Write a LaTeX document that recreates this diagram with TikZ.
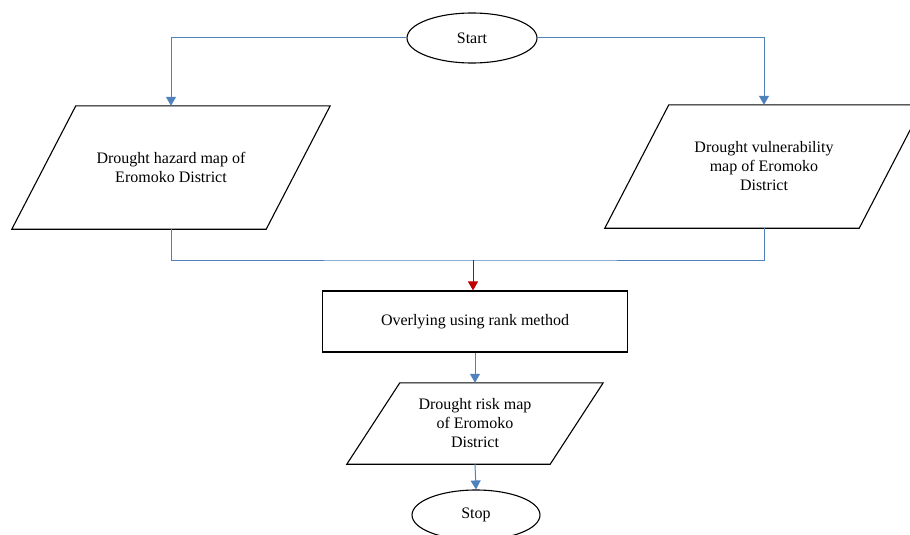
\documentclass[tikz,border=0pt]{standalone}
\usepackage{fontspec}
\setmainfont{Liberation Serif}
\usetikzlibrary{arrows.meta,shapes.geometric,positioning}
\definecolor{flowblue}{RGB}{79,129,189}
\definecolor{flowred}{RGB}{192,0,0}

\begin{document}
\begin{tikzpicture}[x=1pt,y=-1pt,font=\fontsize{16}{19}\selectfont,
            term/.style={ellipse,draw,line width=1.1pt,minimum width=130pt,minimum height=50pt,inner sep=0pt},
            io/.style={rectangle,minimum width=254pt,minimum height=123pt,inner sep=0pt,align=center},
            border/.style={draw,line width=1.1pt,line join=miter},
            process/.style={rectangle,border,minimum width=305pt,minimum height=61pt},
            link/.style={draw=flowblue,line width=1pt},
            flow/.style={link,-{Triangle[width=10pt,length=9pt]},flowblue}]
            \useasboundingbox (0,0) rectangle (910,535);
            \clip (0,0) rectangle (910,535);

            \node   [term]      at (472,38)     (start)     {Start};
            \node   [io]        at (171,167.5)  (hazard)    {Drought hazard map of\\Eromoko District};
            \node   [io]        at (764,166.5)  (vuln)      {Drought vulnerability\\map of Eromoko\\District};
            \coordinate         (merge) at (473,260);
            \node   [process]   at (475,321.5)  (rank)      {Overlying using rank method};
            \node   [io,minimum width=203pt,minimum height=81pt]
                                at (475,423.5)  (risk)      {Drought risk map\\of Eromoko\\District};
            \node   [term,minimum width=128pt]  at (476,515)    (stop)  {Stop};

            % slanted sides of the data boxes
            \foreach \n/\d in {hazard/32,vuln/32,risk/26.5}
                \draw [border] ([xshift=\d pt]\n.north west) -- ([xshift=\d pt]\n.north east)
                    -- ([xshift=-\d pt]\n.south east) -- ([xshift=-\d pt]\n.south west) -- cycle;

            \draw   [flow]  (start.west) -| (hazard.north);
            \draw   [flow]  (start.east) -| (vuln.north);
            \draw   [link]  (hazard.south) |- (merge) -| (vuln.south);
            \draw   [link,draw=flowred,-{Triangle[width=10pt,length=9pt]},flowred]  (merge) -- (merge |- rank.north);

            \path   (rank.south) edge [flow] (risk.north)
            (risk.south) edge [flow] (stop.north);
        \end{tikzpicture}
\end{document}
